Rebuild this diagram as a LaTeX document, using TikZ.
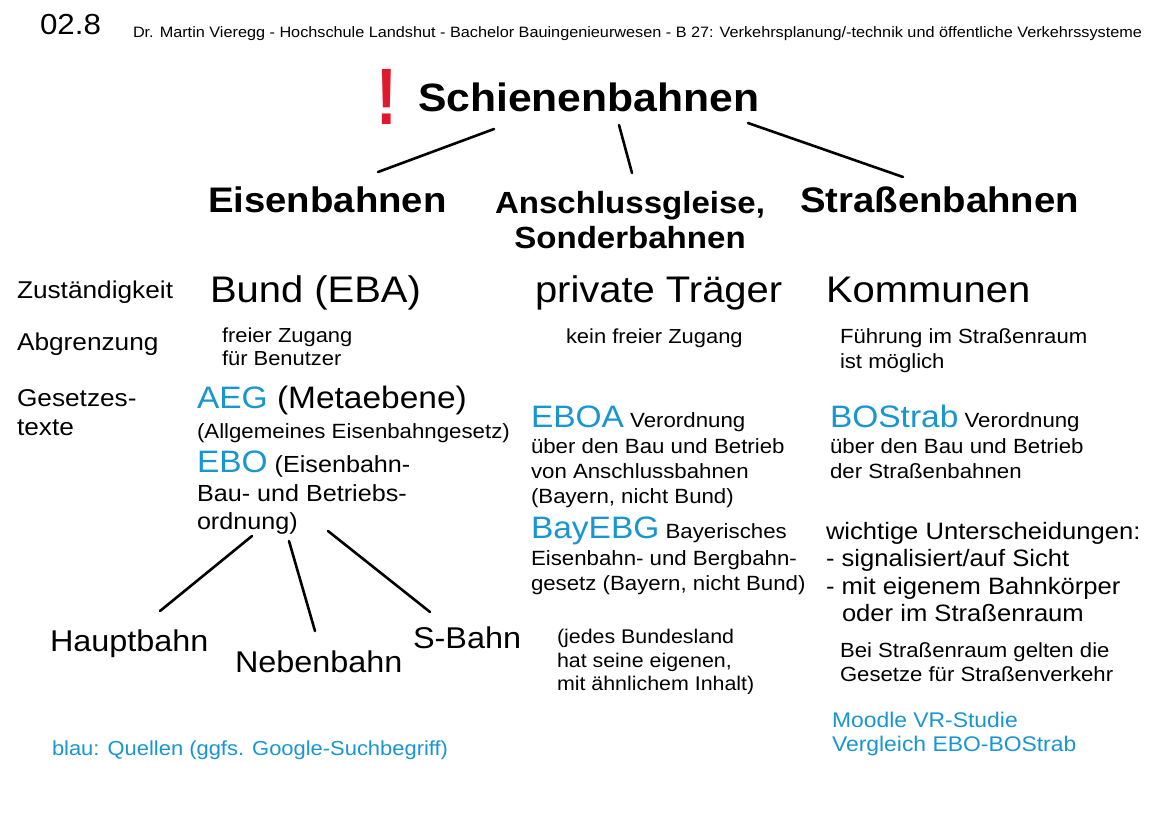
\documentclass[tikz,border=0pt]{standalone}
\usepackage{fontspec}
\setmainfont{Liberation Sans}[FakeStretch=1.08]
\definecolor{srcblue}{RGB}{25,150,210}
\definecolor{alarm}{RGB}{225,25,45}
\newcommand{\fsz}[1]{\fontsize{#1}{#1}\selectfont}
\tikzset{
  txt/.style={anchor=base west, inner sep=0pt, outer sep=0pt},
  txtc/.style={anchor=base, inner sep=0pt, outer sep=0pt},
  link/.style={line width=2.6pt, line cap=round},
  src/.style={text=srcblue},
}
\begin{document}
\begin{tikzpicture}[x=1pt,y=-1pt]
\useasboundingbox (0,0) rectangle (1164,820);
\fill[white] (0,0) rectangle (1164,820);

% header
\node[txt, font=\fsz{29}] (num) at (40,34) {02.8};
\node[txt, font=\fsz{14}] (by) at (133,37) {\resizebox{1009pt}{!}{Dr. Martin Vieregg - Hochschule Landshut - Bachelor Bauingenieurwesen - B 27: Verkehrsplanung/-technik und öffentliche Verkehrssysteme}};

% title
\node[txt, font=\bfseries\fsz{80}, text=alarm] (bang) at (376,124) {\scalebox{0.72}[1]{!}};
\node[txt, font=\bfseries\fsz{39.5}] (root) at (418,111) {Schienenbahnen};

% categories
\node[txt, font=\bfseries\fsz{35.5}] (eisen) at (208,212) {Eisenbahnen};
\node[txtc, font=\bfseries\fsz{30.6}] (ansch) at (630,213) {Anschlussgleise,};
\node[txtc, font=\bfseries\fsz{30.6}] (sonder) at (630,248) {Sonderbahnen};
\node[txt, font=\bfseries\fsz{35.5}] (strab) at (800,212) {Straßenbahnen};

\coordinate (r1a) at (494,129); \coordinate (r1b) at (378,172);
\coordinate (r2a) at (619,125); \coordinate (r2b) at (632,173);
\coordinate (r3a) at (748,123); \coordinate (r3b) at (903,177);
\draw[link] (r1a) -- (r1b);
\draw[link] (r2a) -- (r2b);
\draw[link] (r3a) -- (r3b);

% row labels
\node[txt, font=\fsz{24.3}] (lz) at (17,298) {Zuständigkeit};
\node[txt, font=\fsz{24.3}] (la) at (17,350) {Abgrenzung};
\node[txt, font=\fsz{24.3}] (lg1) at (17,406) {Gesetzes-};
\node[txt, font=\fsz{24.3}] (lg2) at (17,435) {texte};

% Zuständigkeit
\node[txt, font=\fsz{37}] (z1) at (210,302) {Bund (EBA)};
\node[txt, font=\fsz{37}] (z2) at (535,302) {private Träger};
\node[txt, font=\fsz{37}] (z3) at (826,302) {Kommunen};

% Abgrenzung
\node[txt, font=\fsz{20.3}] (a1a) at (222,342) {freier Zugang};
\node[txt, font=\fsz{20.3}] (a1b) at (222,365) {für Benutzer};
\node[txt, font=\fsz{20.3}] (a2) at (566,343) {kein freier Zugang};
\node[txt, font=\fsz{20.5}] (a3a) at (840,343) {Führung im Straßenraum};
\node[txt, font=\fsz{20.5}] (a3b) at (840,368) {ist möglich};

% Gesetze: Eisenbahnen
\node[txt, font=\fsz{31}] (g1a) at (197,408) {\textcolor{srcblue}{AEG} (Metaebene)};
\node[txt, font=\fsz{20.6}] (g1b) at (197,438) {(Allgemeines Eisenbahngesetz)};
\node[txt, font=\fsz{23.3}] (g1c) at (197,472) {\textcolor{srcblue}{\fsz{31}EBO} (Eisenbahn-};
\node[txt, font=\fsz{23.3}] (g1d) at (197,501) {Bau- und Betriebs-};
\node[txt, font=\fsz{23.3}] (g1e) at (197,529) {ordnung)};

\coordinate (e1a) at (252,536); \coordinate (e1b) at (160,611);
\coordinate (e2a) at (289,541); \coordinate (e2b) at (315,631);
\coordinate (e3a) at (328,531); \coordinate (e3b) at (430,612);
\draw[link] (e1a) -- (e1b);
\draw[link] (e2a) -- (e2b);
\draw[link] (e3a) -- (e3b);

\node[txt, font=\fsz{30}] (haupt) at (50,651) {Hauptbahn};
\node[txt, font=\fsz{30}] (neben) at (235,672) {Nebenbahn};
\node[txt, font=\fsz{30}] (sbahn) at (413,648) {S-Bahn};

\node[txt, font=\fsz{20.3}, src] (legend) at (52,755) {blau: Quellen (ggfs. Google-Suchbegriff)};

% Gesetze: Anschlussbahnen
\node[txt, font=\fsz{20.6}] (m1) at (531,427) {\textcolor{srcblue}{\fsz{31}EBOA} Verordnung};
\node[txt, font=\fsz{20.6}] (m2) at (531,453) {über den Bau und Betrieb};
\node[txt, font=\fsz{20.6}] (m3) at (531,478) {von Anschlussbahnen};
\node[txt, font=\fsz{20.6}] (m4) at (531,503) {(Bayern, nicht Bund)};
\node[txt, font=\fsz{20.6}] (m5) at (531,538) {\textcolor{srcblue}{\fsz{31}BayEBG} Bayerisches};
\node[txt, font=\fsz{20.6}] (m6) at (531,565) {Eisenbahn- und Bergbahn-};
\node[txt, font=\fsz{20.6}] (m7) at (531,590) {gesetz (Bayern, nicht Bund)};
\node[txt, font=\fsz{19.8}] (m8) at (557,643) {(jedes Bundesland};
\node[txt, font=\fsz{19.8}] (m9) at (557,667) {hat seine eigenen,};
\node[txt, font=\fsz{19.8}] (m10) at (557,690) {mit ähnlichem Inhalt)};

% Gesetze: Straßenbahnen
\node[txt, font=\fsz{20.6}] (s1) at (830,427) {\textcolor{srcblue}{\fsz{31}BOStrab} Verordnung};
\node[txt, font=\fsz{20.6}] (s2) at (830,453) {über den Bau und Betrieb};
\node[txt, font=\fsz{20.6}] (s3) at (830,478) {der Straßenbahnen};
\node[txt, font=\fsz{23.7}] (s4) at (826,539) {wichtige Unterscheidungen:};
\node[txt, font=\fsz{23.7}] (s5) at (826,566) {- signalisiert/auf Sicht};
\node[txt, font=\fsz{23.7}] (s6) at (826,594) {- mit eigenem Bahnkörper};
\node[txt, font=\fsz{23.7}] (s7) at (842,621) {oder im Straßenraum};
\node[txt, font=\fsz{20.5}] (s8) at (840,657) {Bei Straßenraum gelten die};
\node[txt, font=\fsz{20.5}] (s9) at (840,681) {Gesetze für Straßenverkehr};
\node[txt, font=\fsz{21.2}, src] (s10) at (832,727) {Moodle VR-Studie};
\node[txt, font=\fsz{21.2}, src] (s11) at (832,751) {Vergleich EBO-BOStrab};
\end{tikzpicture}
\end{document}
